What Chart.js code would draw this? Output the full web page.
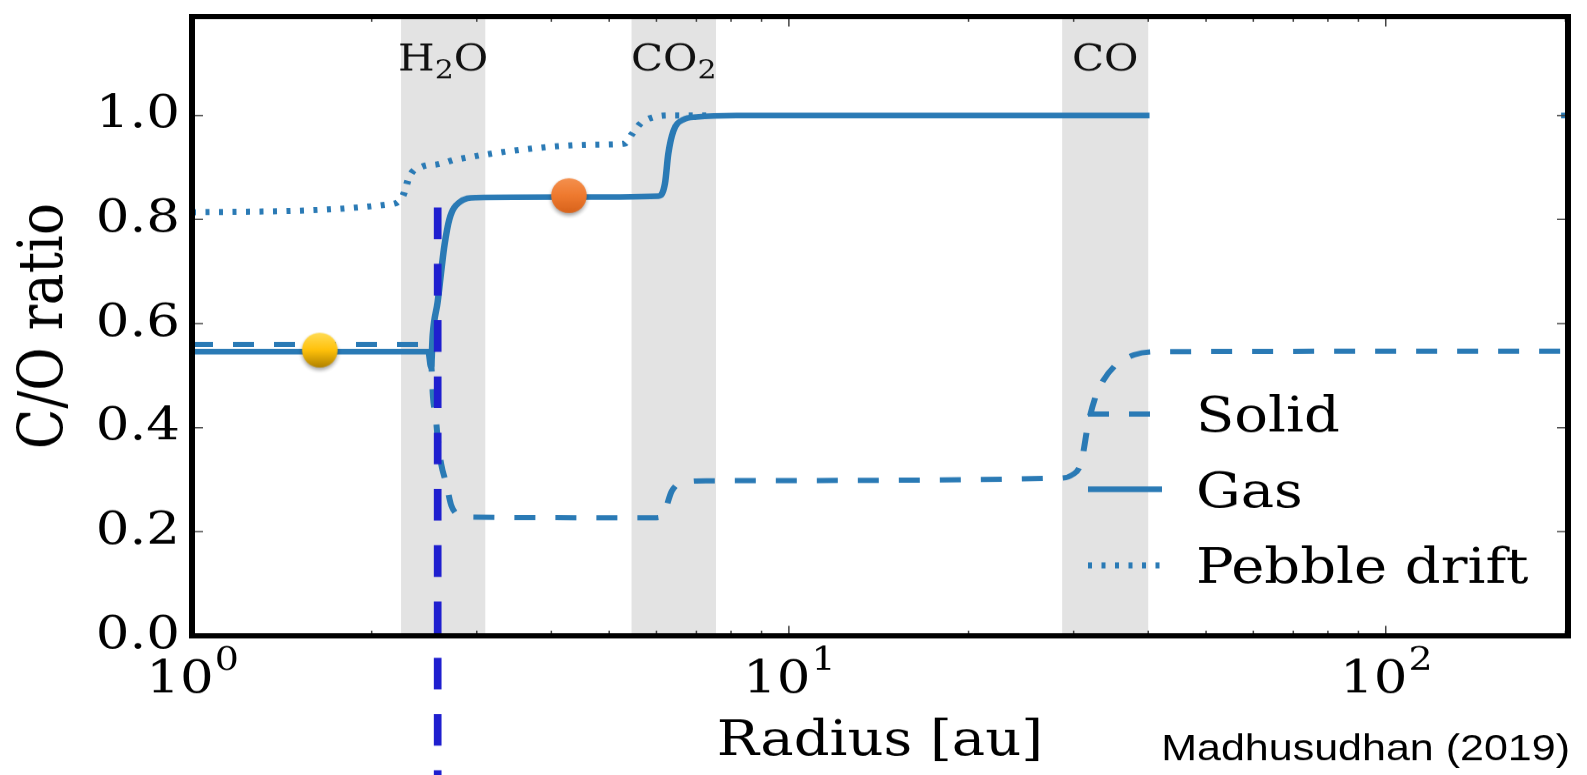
<!DOCTYPE html>
<html>
<head>
<meta charset="utf-8">
<script src="https://cdn.jsdelivr.net/npm/chart.js@4.4.0/dist/chart.umd.min.js"></script>
<style>
html,body{margin:0;padding:0;overflow:hidden;background:#fff;}
#wrap{width:1587px;height:775px;overflow:hidden;}
#chart{display:block;transform:scaleY(0.86981);transform-origin:0 0;}
</style>
</head>
<body>
<div id="wrap"><canvas id="chart" width="1587" height="891"></canvas></div>
<script>
// values: radius in au, C/O ratio
const gasX = [1, 2.49, 2.515, 2.531, 2.58, 2.617, 2.648, 2.70, 2.805, 2.99, 4.22, 6.05, 6.2, 6.28, 6.405, 6.655, 7.0, 8.16, 40.2, 100, 196.7, 202];
const gasY = [0.546, 0.546, 0.517, 0.578, 0.642, 0.703, 0.75, 0.801, 0.833, 0.842, 0.843, 0.845, 0.869, 0.926, 0.97, 0.992, 0.997, 1.0, 1.0, null, 1.0, 1.0];

const solidX = [1, 2.45, 2.499, 2.518, 2.533, 2.561, 2.58, 2.615, 2.665, 2.72, 2.805, 2.97, 6.0, 6.166, 6.365, 6.612, 7.276, 28.5, 29.9, 30.7, 31.1, 31.7, 32.7, 33.6, 35.5, 37.9, 41.0, 202];
const solidY = [0.56, 0.56, 0.555, 0.52, 0.46, 0.42, 0.38, 0.33, 0.294, 0.25, 0.232, 0.228, 0.227, 0.234, 0.278, 0.294, 0.298, 0.303, 0.31, 0.325, 0.35, 0.405, 0.462, 0.49, 0.523, 0.54, 0.546, 0.547];

const pebbleX = [1, 2.17, 2.257, 2.316, 2.436, 2.576, 2.79, 4.78, 5.31, 5.45, 5.66, 5.95, 6.33, 7.3];
const pebbleY = [0.814, 0.83, 0.846, 0.884, 0.902, 0.906, 0.916, 0.944, 0.946, 0.963, 0.986, 0.997, 1.0, 1.0];

// planet markers and the water snowline marker
const dotX = [1.637, 4.28];
const dotY = [0.549, 0.846];
const snowX = [2.58, 2.58];
const snowY = [0.823, -0.28];

// ice lines
const bandStart = [2.24, 5.45, 28.7];
const bandEnd = [3.1, 7.55, 40.0];
const bandNames = ['H₂O', 'CO₂', 'CO'];

const xTickVals = [1, 10, 100];
const xTickBase = ['10', '10', '10'];
const xTickExp = ['0', '1', '2'];
const yTickVals = [0, 0.2, 0.4, 0.6, 0.8, 1.0];
const yTickLabels = ['0.0', '0.2', '0.4', '0.6', '0.8', '1.0'];
const legendNames = ['Solid', 'Gas', 'Pebble drift'];

const SQ = 775 / 891; // the picture is squashed vertically
const lineBlue = '#2a7ab5';
const serif = "'DejaVu Serif', serif";
const SUBS = '₀₁₂₃₄₅₆₇₈₉';

function pts(xs, ys){
  return xs.map((x, i) => ({x: x, y: ys[i]}));
}

function makeDot(top, mid, bottom){
  const c = document.createElement('canvas');
  c.width = 48; c.height = 58;
  const g = c.getContext('2d');
  const rx = 17.8, ry = 17.4 / SQ;
  const grad = g.createLinearGradient(0, 29 - ry, 0, 29 + ry);
  grad.addColorStop(0, top);
  grad.addColorStop(0.5, mid);
  grad.addColorStop(1, bottom);
  g.shadowColor = 'rgba(0,0,0,0.35)';
  g.shadowBlur = 4;
  g.shadowOffsetY = 3;
  g.beginPath();
  g.ellipse(24, 29, rx, ry, 0, 0, Math.PI * 2);
  g.fillStyle = grad;
  g.fill();
  return c;
}

const yellowDot = makeDot('#ffdc55', '#ffc10a', '#b08200');
const orangeDot = makeDot('#f4914f', '#ef7a2f', '#d8631b');

// chemical formula with real subscripts (mathtext look)
function drawChem(ctx, text, xc, y){
  const parts = [...text].map(c => {
    const k = SUBS.indexOf(c);
    return k < 0 ? {t: c, sub: false} : {t: String(k), sub: true};
  });
  let w = 0;
  parts.forEach(p => {
    ctx.font = (p.sub ? '30px ' : '42px ') + serif;
    p.w = ctx.measureText(p.t).width;
    w += p.w;
  });
  let x0 = xc - w / 2;
  parts.forEach(p => {
    ctx.font = (p.sub ? '30px ' : '42px ') + serif;
    ctx.fillText(p.t, x0, p.sub ? y + 9 : y);
    x0 += p.w;
  });
}

const bandsPlugin = {
  id: 'bands',
  beforeDatasetsDraw(chart){
    const {ctx, chartArea: a, scales: {x}} = chart;
    ctx.save();
    ctx.fillStyle = '#e3e3e3';
    bandStart.forEach((s, i) => {
      const x0 = x.getPixelForValue(s), x1 = x.getPixelForValue(bandEnd[i]);
      ctx.fillRect(x0, a.top, x1 - x0, a.bottom - a.top);
    });
    ctx.fillStyle = '#111';
    ctx.textAlign = 'left';
    ctx.textBaseline = 'alphabetic';
    bandNames.forEach((n, i) => {
      const xc = (x.getPixelForValue(bandStart[i]) + x.getPixelForValue(bandEnd[i])) / 2;
      drawChem(ctx, n, xc, a.top + 62);
    });
    ctx.restore();
  }
};

// inward ticks, black frame and the 10^n labels, matplotlib style
const framePlugin = {
  id: 'frame',
  afterDatasetsDraw(chart){
    const {ctx, chartArea: a, scales: {x, y}} = chart;
    ctx.save();
    ctx.strokeStyle = '#444';
    ctx.lineWidth = 1.5;
    ctx.beginPath();
    yTickVals.forEach(v => {
      const py = y.getPixelForValue(v);
      ctx.moveTo(a.left, py); ctx.lineTo(a.left + 11, py);
      ctx.moveTo(a.right, py); ctx.lineTo(a.right - 11, py);
    });
    for (let d = 1; d <= 100; d *= 10){
      for (let m = 1; m < 10; m++){
        const v = d * m;
        if (v > x.max) break;
        const px = x.getPixelForValue(v);
        const len = m === 1 ? 11.5 : 6;
        ctx.moveTo(px, a.bottom); ctx.lineTo(px, a.bottom - len);
        ctx.moveTo(px, a.top); ctx.lineTo(px, a.top + len);
      }
    }
    ctx.stroke();
    ctx.strokeStyle = '#000';
    ctx.lineWidth = 6;
    ctx.strokeRect(a.left, a.top, a.right - a.left, a.bottom - a.top);

    ctx.fillStyle = '#000';
    ctx.textBaseline = 'alphabetic';
    ctx.textAlign = 'left';
    xTickVals.forEach((v, i) => {
      const px = x.getPixelForValue(v);
      ctx.font = '53px ' + serif;
      const wb = ctx.measureText(xTickBase[i]).width;
      ctx.font = '38px ' + serif;
      const we = ctx.measureText(xTickExp[i]).width;
      const x0 = px - (wb + we) / 2;
      ctx.font = '53px ' + serif;
      ctx.fillText(xTickBase[i], x0, a.bottom + 65);
      ctx.font = '38px ' + serif;
      ctx.fillText(xTickExp[i], x0 + wb + 1, a.bottom + 39);
    });
    ctx.restore();
  }
};

const legendPlugin = {
  id: 'legendRows',
  afterDraw(chart){
    const {ctx, chartArea: a} = chart;
    const dashes = [[21, 20], [], [4, 9.5]];
    const widths = [6, 6.5, 7];
    const rows = [255, 168.5, 81];
    ctx.save();
    legendNames.forEach((name, i) => {
      const ry = a.bottom - rows[i];
      ctx.strokeStyle = lineBlue;
      ctx.lineWidth = widths[i];
      ctx.lineCap = 'butt';
      ctx.setLineDash(dashes[i]);
      ctx.beginPath();
      ctx.moveTo(a.right - 480, ry);
      ctx.lineTo(a.right - 406, ry);
      ctx.stroke();
      ctx.setLineDash([]);
      ctx.fillStyle = '#000';
      ctx.font = '56px ' + serif;
      ctx.textAlign = 'left';
      ctx.textBaseline = 'alphabetic';
      ctx.fillText(name, a.right - 372, ry + 20.4);
    });
    ctx.font = "43px 'Liberation Sans', Arial, sans-serif";
    ctx.textAlign = 'right';
    ctx.fillText('Madhusudhan (2019)', 1570, 874);
    ctx.restore();
  }
};

Chart.defaults.font.family = serif;
Chart.defaults.color = '#000';

new Chart(document.getElementById('chart'), {
  type: 'line',
  data: {
    datasets: [
      {label: 'markers', type: 'scatter', data: pts(dotX, dotY), pointStyle: [yellowDot, orangeDot],
       pointRadius: 18, pointHoverRadius: 18, showLine: false, order: 0},
      {label: 'snowline', data: pts(snowX, snowY), borderColor: '#1f1fcf', borderWidth: 7.7,
       borderDash: [36.4, 28.3], pointRadius: 0, clip: false, order: 1},
      {label: 'Gas', data: pts(gasX, gasY), borderColor: lineBlue, borderWidth: 6.5,
       pointRadius: 0, cubicInterpolationMode: 'monotone', order: 2},
      {label: 'Solid', data: pts(solidX, solidY), borderColor: lineBlue, borderWidth: 6,
       borderDash: [21, 20], pointRadius: 0, cubicInterpolationMode: 'monotone', order: 3},
      {label: 'Pebble drift', data: pts(pebbleX, pebbleY), borderColor: lineBlue, borderWidth: 7,
       borderDash: [4, 9.5], pointRadius: 0, cubicInterpolationMode: 'monotone', order: 4}
    ]
  },
  options: {
    responsive: false,
    animation: false,
    events: [],
    layout: {padding: {left: 0, right: 9, top: 10, bottom: 0}},
    plugins: {legend: {display: false}, tooltip: {enabled: false}},
    scales: {
      x: {
        type: 'logarithmic', min: 1, max: 202, position: 'bottom',
        grid: {display: false, drawTicks: false},
        border: {display: false},
        afterBuildTicks: s => { s.ticks = xTickVals.map(v => ({value: v})); },
        afterFit: s => { s.height = 160; s.paddingLeft = 0; s.paddingRight = 0; },
        ticks: {display: false},
        title: {display: true, text: 'Radius [au]', font: {size: 56}, color: '#000', padding: {top: 0, bottom: 4}}
      },
      y: {
        min: 0, max: 1.19,
        grid: {display: false, drawTicks: false},
        border: {display: false},
        afterBuildTicks: s => { s.ticks = yTickVals.map(v => ({value: v})); },
        afterFit: s => { s.width = 192; s.paddingTop = 0; s.paddingBottom = 0; },
        ticks: {padding: 12, font: {size: 53}, color: '#000', callback: (v, i) => yTickLabels[i]},
        title: {display: true, text: 'C/O ratio', font: {size: 61}, color: '#000', padding: {top: 10, bottom: 0}}
      }
    }
  },
  plugins: [bandsPlugin, framePlugin, legendPlugin]
});
</script>
</body>
</html>
